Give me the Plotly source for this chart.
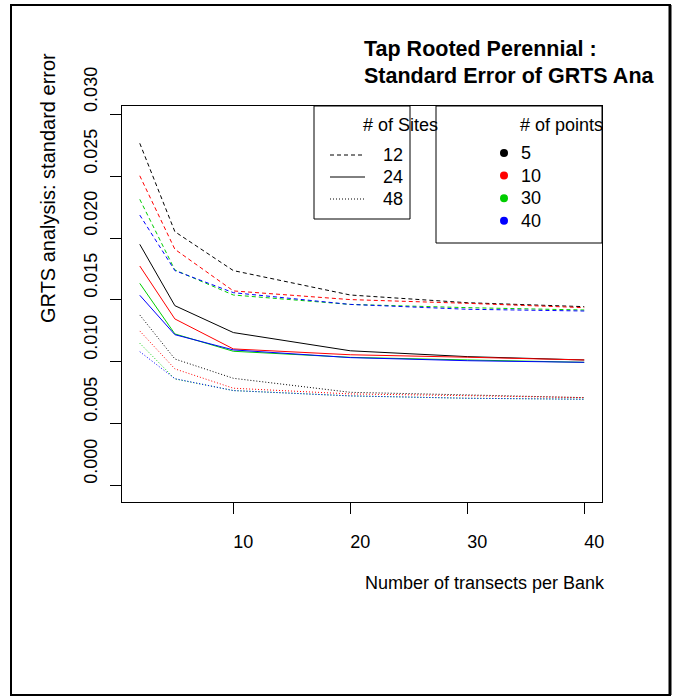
import plotly.graph_objects as go

# ---- data -------------------------------------------------------------
transects = [2, 5, 10, 20, 30, 40]
sites = [12, 24, 48]
points = [5, 10, 30, 40]

# standard error of the GRTS analysis, 12 sites
se_s12_p5 = [0.02764, 0.02051, 0.01737, 0.01540, 0.01478, 0.01446]
se_s12_p10 = [0.02502, 0.01909, 0.01573, 0.01503, 0.01473, 0.01438]
se_s12_p30 = [0.02312, 0.01742, 0.01540, 0.01464, 0.01438, 0.01419]
se_s12_p40 = [0.02185, 0.01737, 0.01559, 0.01464, 0.01425, 0.01411]
# 24 sites
se_s24_p5 = [0.01949, 0.01454, 0.01237, 0.01090, 0.01043, 0.01016]
se_s24_p10 = [0.01774, 0.01347, 0.01105, 0.01058, 0.01038, 0.01016]
se_s24_p30 = [0.01634, 0.01226, 0.01086, 0.01037, 0.01016, 0.00997]
se_s24_p40 = [0.01538, 0.01220, 0.01097, 0.01035, 0.01010, 0.00997]
# 48 sites
se_s48_p5 = [0.01379, 0.01024, 0.00868, 0.00755, 0.00734, 0.00712]
se_s48_p10 = [0.01250, 0.00944, 0.00788, 0.00742, 0.00728, 0.00712]
se_s48_p30 = [0.01151, 0.00863, 0.00769, 0.00726, 0.00707, 0.00699]
se_s48_p40 = [0.01083, 0.00865, 0.00769, 0.00726, 0.00707, 0.00699]

y_ticks = [0.000, 0.005, 0.010, 0.015, 0.020, 0.025, 0.030]
x_ticks = [10, 20, 30, 40]

series = {
    (12, 5): se_s12_p5, (12, 10): se_s12_p10, (12, 30): se_s12_p30, (12, 40): se_s12_p40,
    (24, 5): se_s24_p5, (24, 10): se_s24_p10, (24, 30): se_s24_p30, (24, 40): se_s24_p40,
    (48, 5): se_s48_p5, (48, 10): se_s48_p10, (48, 30): se_s48_p30, (48, 40): se_s48_p40,
}

# ---- styling -----------------------------------------------------------
FONT = "Liberation Sans, Arial, sans-serif"
point_colors = {5: "#000000", 10: "#FF0000", 30: "#00CD00", 40: "#0000FF"}
site_dash = {12: "4px,3px", 24: "solid", 48: "1px,2px"}

W, H = 679, 696
ML, MR, MT, MB = 122, 77, 106, 194
PW = W - ML - MR
PH = H - MT - MB


def pxx(x):
    """page pixel column -> paper x"""
    return (x - ML) / PW


def pxy(y):
    """page pixel row -> paper y"""
    return (H - MB - y) / PH


fig = go.Figure()

for s in sites:
    for p in points:
        fig.add_trace(go.Scatter(
            x=transects, y=series[(s, p)], mode="lines",
            line=dict(color=point_colors[p], width=1, dash=site_dash[s]),
            showlegend=False, hoverinfo="skip",
        ))

shapes = []
annotations = []

# outer device frame
shapes.append(dict(type="rect", xref="paper", yref="paper",
                   x0=pxx(11), x1=pxx(670), y0=pxy(695), y1=pxy(5),
                   line=dict(color="black", width=2)))
shapes.append(dict(type="line", xref="paper", yref="paper",
                   x0=pxx(670), x1=pxx(670), y0=pxy(695), y1=pxy(5),
                   line=dict(color="black", width=3)))

# title
annotations.append(dict(text="<b>Tap Rooted Perennial :</b>", xref="paper", yref="paper",
                        x=pxx(362), y=pxy(49), xanchor="left", yanchor="middle",
                        showarrow=False, font=dict(size=21.5, family=FONT, color="black")))
annotations.append(dict(text="<b>Standard Error of GRTS Ana</b>", xref="paper", yref="paper",
                        x=pxx(362), y=pxy(76), xanchor="left", yanchor="middle",
                        showarrow=False, font=dict(size=21.5, family=FONT, color="black")))

# axis titles
annotations.append(dict(text="Number of transects per Bank", xref="paper", yref="paper",
                        x=pxx(485), y=pxy(583), xanchor="center", yanchor="middle",
                        showarrow=False, font=dict(size=18, family=FONT, color="black")))
annotations.append(dict(text="GRTS analysis: standard error", xref="paper", yref="paper",
                        x=pxx(48), y=pxy(188), xanchor="center", yanchor="middle",
                        textangle=-90, showarrow=False,
                        font=dict(size=20, family=FONT, color="black")))

# legend: number of sites (line type)
shapes.append(dict(type="rect", xref="paper", yref="paper",
                   x0=pxx(314), x1=pxx(410), y0=pxy(219), y1=pxy(106),
                   line=dict(color="black", width=1), fillcolor="white", layer="above"))
annotations.append(dict(text="# of Sites", xref="paper", yref="paper",
                        x=pxx(400), y=pxy(125), xanchor="center", yanchor="middle",
                        showarrow=False, font=dict(size=18, family=FONT, color="black")))
for i, s in enumerate(sites):
    yy = 155 + 22 * i
    shapes.append(dict(type="line", xref="paper", yref="paper",
                       x0=pxx(330), x1=pxx(365), y0=pxy(yy), y1=pxy(yy),
                       line=dict(color="black", width=1, dash=site_dash[s]), layer="above"))
    annotations.append(dict(text=str(s), xref="paper", yref="paper",
                            x=pxx(381), y=pxy(yy), xanchor="left", yanchor="middle",
                            showarrow=False, font=dict(size=18, family=FONT, color="black")))

# legend: number of points (colour)
shapes.append(dict(type="rect", xref="paper", yref="paper",
                   x0=pxx(436), x1=pxx(602), y0=pxy(243), y1=pxy(106),
                   line=dict(color="black", width=1), fillcolor="white", layer="above"))
annotations.append(dict(text="# of points", xref="paper", yref="paper",
                        x=pxx(518), y=pxy(125), xanchor="left", yanchor="middle",
                        showarrow=False, font=dict(size=18, family=FONT, color="black")))
for i, p in enumerate(points):
    yy = 153 + 22.6 * i
    shapes.append(dict(type="circle", xref="paper", yref="paper",
                       xsizemode="pixel", ysizemode="pixel",
                       xanchor=pxx(504), yanchor=pxy(yy),
                       x0=-4, x1=4, y0=-4, y1=4,
                       fillcolor=point_colors[p], line=dict(width=0), layer="above"))
    annotations.append(dict(text=str(p), xref="paper", yref="paper",
                            x=pxx(519), y=pxy(yy), xanchor="left", yanchor="middle",
                            showarrow=False, font=dict(size=18, family=FONT, color="black")))

fig.update_layout(
    width=W, height=H,
    margin=dict(l=ML, r=MR, t=MT, b=MB, pad=0),
    paper_bgcolor="white", plot_bgcolor="white",
    font=dict(family=FONT, size=18, color="black"),
    shapes=shapes, annotations=annotations,
    showlegend=False,
)

fig.update_xaxes(
    range=[0.48, 41.52], tickvals=x_ticks, ticktext=[str(v) for v in x_ticks],
    ticks="outside", ticklen=11, tickcolor="black", tickwidth=1,
    showline=True, linecolor="black", linewidth=1, mirror=True,
    showgrid=False, zeroline=False,
    tickfont=dict(size=18, family=FONT, color="black"),
    ticklabelshift=10, ticklabelstandoff=12,
)
fig.update_yaxes(
    range=[-0.0013, 0.03065], tickvals=y_ticks, ticktext=[f"{v:.3f}" for v in y_ticks],
    tickangle=-90,
    ticks="outside", ticklen=11, tickcolor="black", tickwidth=1,
    showline=True, linecolor="black", linewidth=1, mirror=True,
    showgrid=False, zeroline=False,
    tickfont=dict(size=18, family=FONT, color="black"),
    ticklabelshift=-22, ticklabelstandoff=6,
)

fig.write_html("out.html")
